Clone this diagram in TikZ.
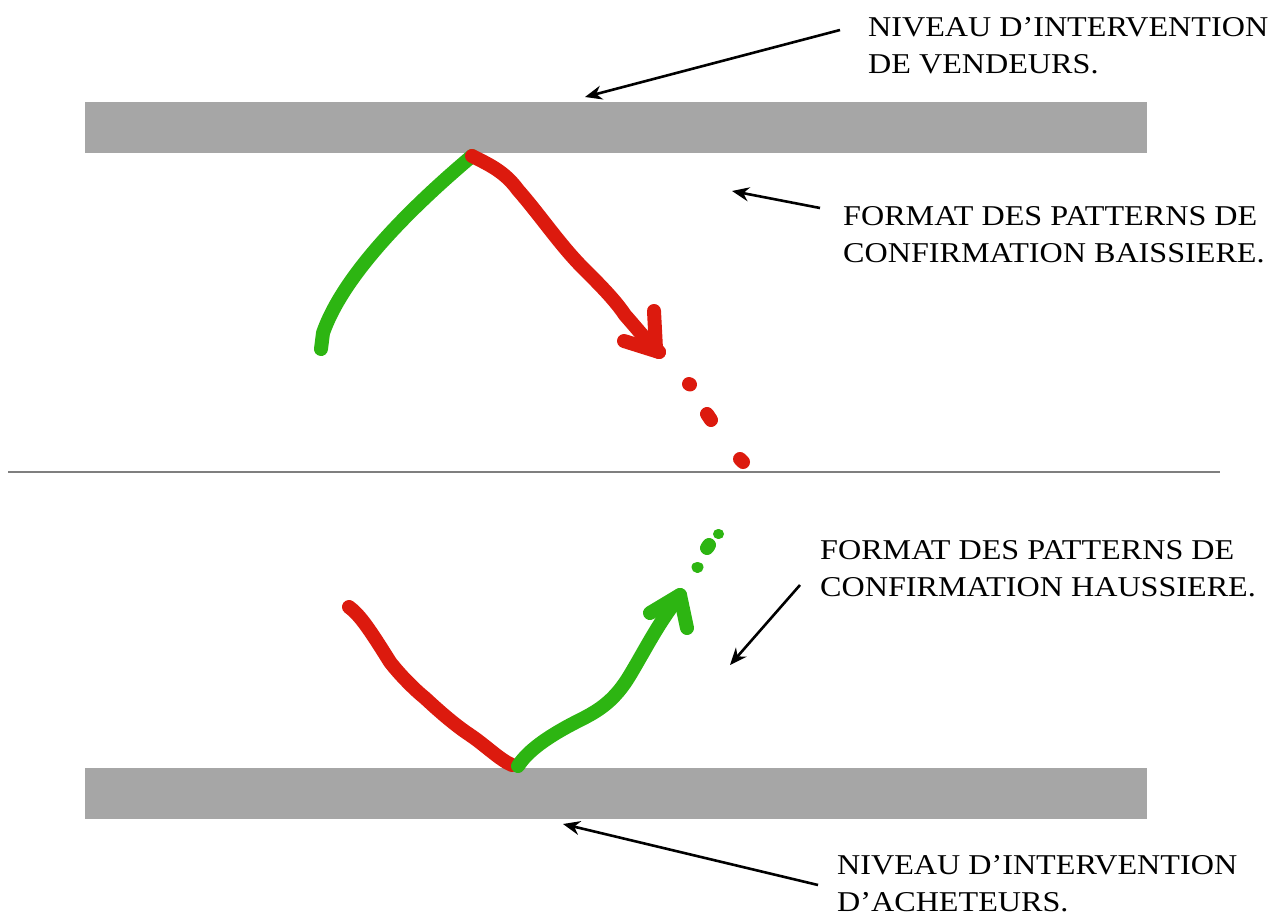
\documentclass[tikz,border=0pt]{standalone}
\usepackage{fontspec}
\setmainfont[FakeStretch=1.12]{Liberation Serif}
\usetikzlibrary{arrows.meta}
\definecolor{barg}{HTML}{A6A6A6}
\definecolor{midg}{HTML}{7F7F7F}
\definecolor{pred}{HTML}{DC1A0E}
\definecolor{pgreen}{HTML}{2DB512}
\tikzset{
  bar/.style={fill=barg, draw=none},
  lbl/.style={align=left, anchor=north west, inner sep=0pt, font=\fontsize{28.7}{37}\selectfont},
  pointer/.style={draw=black, line width=2.6pt, -{Stealth[length=17pt,width=14pt]}},
  stroke/.style={line width=14pt, line cap=round, line join=round},
}
\begin{document}
\begin{tikzpicture}[x=1pt,y=-1pt]
\useasboundingbox (0,0) rectangle (1277,915);
% bars and separator
\fill[bar] (85,102) rectangle (1147,153);
\fill[bar] (85,768) rectangle (1147,819);
\draw[midg, line width=1.8pt] (8,472) -- (1220,472);

% labels
\node[lbl] (t1) at (868,17) {NIVEAU D'INTERVENTION\\DE VENDEURS.};
\node[lbl] (t2) at (843,206) {FORMAT DES PATTERNS DE\\CONFIRMATION BAISSIERE.};
\node[lbl] (t3) at (820,540) {FORMAT DES PATTERNS DE\\CONFIRMATION HAUSSIERE.};
\node[lbl] (t4) at (837,855) {NIVEAU D'INTERVENTION\\D'ACHETEURS.};

% pointer coordinates
\coordinate (s1) at (840,30);  \coordinate (e1) at (585,97);
\coordinate (s2) at (820,208); \coordinate (e2) at (732,191);
\coordinate (s3) at (800,585); \coordinate (e3) at (730,665);
\coordinate (s4) at (818,885); \coordinate (e4) at (563,824);
\draw[pointer] (s1) -- (e1);
\draw[pointer] (s2) -- (e2);
\draw[pointer] (s3) -- (e3);
\draw[pointer] (s4) -- (e4);

% top pattern (bearish)
\draw[stroke, pgreen] (321,349) -- (323,333) .. controls (345,270) and (420,200) .. (472,156);
\draw[stroke, pred] (472,156) .. controls (490,165) and (505,172) .. (518,190)
  .. controls (540,215) and (560,245) .. (583,268)
  .. controls (600,285) and (615,300) .. (625,315)
  .. controls (640,332) and (650,345) .. (659,352);
\draw[stroke, pred] (654,311) -- (656,349);
\draw[stroke, pred] (624,341) -- (659,352);
\draw[stroke, pred] (689,384) -- (690,384.5);
\draw[stroke, pred] (707,414) -- (711,420);
\draw[stroke, pred] (740,459) -- (743,462);

% bottom pattern (bullish)
\draw[stroke, pred] (349,607) .. controls (360,615) and (370,630) .. (390,662)
  .. controls (400,675) and (415,690) .. (425,698)
  .. controls (440,712) and (455,725) .. (470,735)
  .. controls (485,745) and (500,760) .. (512,765);
\draw[stroke, pgreen] (518,766) .. controls (525,755) and (540,740) .. (580,720)
  .. controls (600,710) and (615,700) .. (630,675)
  .. controls (645,650) and (660,620) .. (680,596);
\draw[stroke, pgreen] (650,613) -- (680,595);
\draw[stroke, pgreen] (680,595) -- (687,628);
\draw[stroke, pgreen, line width=11pt] (697,567) -- (698,567);
\draw[stroke, pgreen] (707,548) -- (709,545);
\draw[stroke, pgreen, line width=10pt] (718,534) -- (719,534);
\end{tikzpicture}
\end{document}
